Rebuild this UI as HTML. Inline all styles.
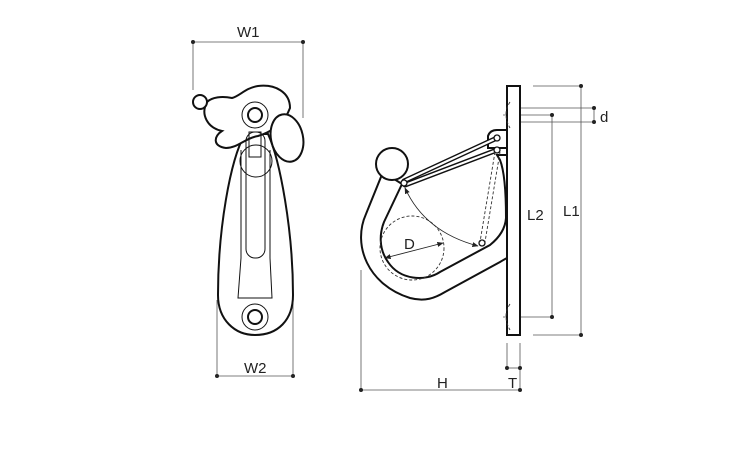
<!DOCTYPE html>
<html><head><style>body{margin:0;background:#fff}svg{display:block}text{font-family:"Liberation Sans",sans-serif;font-size:15px;fill:#222}</style></head>
<body>
<svg width="750" height="450" viewBox="0 0 750 450" xmlns="http://www.w3.org/2000/svg">
<defs><marker id="a" viewBox="0 0 10 10" refX="9" refY="5" markerWidth="7" markerHeight="7" orient="auto-start-reverse"><path d="M0,1L10,5L0,9z" fill="#222"/></marker></defs>
<g stroke="#555" stroke-width="0.8" fill="none">
<line x1="193" y1="42" x2="303" y2="42"/><line x1="193" y1="42" x2="193" y2="90"/><line x1="303" y1="42" x2="303" y2="118"/>
<line x1="217" y1="376" x2="293" y2="376"/><line x1="217" y1="300" x2="217" y2="376"/><line x1="293" y1="300" x2="293" y2="376"/>
<line x1="533" y1="86" x2="581" y2="86"/><line x1="533" y1="335" x2="581" y2="335"/><line x1="581" y1="86" x2="581" y2="335"/>
<line x1="503" y1="115" x2="552" y2="115"/><line x1="503" y1="317" x2="552" y2="317"/><line x1="552" y1="115" x2="552" y2="317"/>
<line x1="517" y1="108" x2="594" y2="108"/><line x1="517" y1="122" x2="594" y2="122"/><line x1="594" y1="108" x2="594" y2="122"/>
<line x1="507" y1="343" x2="507" y2="368"/><line x1="520" y1="343" x2="520" y2="390"/><line x1="507" y1="368" x2="520" y2="368"/>
<line x1="361" y1="390" x2="520" y2="390"/><line x1="361" y1="270" x2="361" y2="390"/>
</g>
<g fill="#222">
<circle cx="193" cy="42" r="2"/><circle cx="303" cy="42" r="2"/><circle cx="217" cy="376" r="2"/><circle cx="293" cy="376" r="2"/>
<circle cx="581" cy="86" r="2"/><circle cx="581" cy="335" r="2"/><circle cx="552" cy="115" r="2"/><circle cx="552" cy="317" r="2"/>
<circle cx="594" cy="108" r="2"/><circle cx="594" cy="122" r="2"/><circle cx="507" cy="368" r="2"/><circle cx="520" cy="368" r="2"/>
<circle cx="361" cy="390" r="2"/><circle cx="520" cy="390" r="2"/>
</g>
<text x="237" y="37">W1</text><text x="244" y="373">W2</text>
<text x="563" y="216">L1</text><text x="527" y="220">L2</text><text x="600" y="122">d</text>
<text x="437" y="388">H</text><text x="508" y="388">T</text><text x="404" y="249">D</text>
<!-- left view -->
<g stroke="#111" stroke-width="2" fill="#fff">
<path d="M245,134 C230,160 218,230 218,295 C218,320 235,335 255,335 C278,335 293,320 293,295 C293,230 280,160 268,134 Z"/>
<path d="M207,102 C200,115 208,128 222,131 C214,136 212,146 226,148 C238,148 245,138 258,136 C272,132 285,122 290,108 C290,92 275,84 258,86 C245,88 240,96 232,98 C222,96 212,97 207,102 Z"/>
<circle cx="200" cy="102" r="7"/>
<ellipse cx="287" cy="138" rx="16" ry="24" transform="rotate(-12 287 138)"/>
</g>
<g stroke="#111" stroke-width="1" fill="none">
<circle cx="255" cy="115" r="13"/><circle cx="255" cy="317" r="13"/>
<path d="M241,150 L241,258 L238,298 L272,298 L270,258 L270,150"/>
<rect x="246" y="132" width="19" height="126" rx="9"/>
<rect x="249" y="132" width="12" height="25"/>
<circle cx="256" cy="161" r="16"/>
</g>
<g stroke="#111" stroke-width="2" fill="none"><circle cx="255" cy="115" r="7"/><circle cx="255" cy="317" r="7"/></g>
<!-- right view -->
<g stroke="#111" stroke-width="2" fill="#fff">
<path d="M488,148 L488,136 Q490,130 497,130 L507,130 L507,148 Z"/>
<path d="M383,172 L366,214 C352,245 368,285 410,298 C425,302 435,298 445,292 L500,262 Q505,259 507,258 L507,155 L497,155 L500,160 Q506,175 506,218 Q505,233 490,245 L440,272 C425,282 400,280 388,262 C378,248 380,232 384,222 L402,184 Z"/>
<circle cx="392" cy="164" r="16"/>
<rect x="507" y="86" width="13" height="249"/>
</g>
<g stroke="#111" stroke-width="5" stroke-linecap="round" fill="none">
<line x1="404" y1="181" x2="497" y2="138"/><line x1="405" y1="185" x2="497" y2="150"/>
</g>
<g stroke="#fff" stroke-width="2.2" stroke-linecap="round" fill="none">
<line x1="404" y1="181" x2="497" y2="138"/><line x1="405" y1="185" x2="497" y2="150"/>
</g>
<g stroke="#111" stroke-width="1.3" fill="#fff"><circle cx="497" cy="138" r="3"/><circle cx="497" cy="150" r="3"/><circle cx="404" cy="183" r="3"/><circle cx="482" cy="243" r="3"/></g>
<g stroke="#333" stroke-width="0.9" fill="none" stroke-dasharray="3,2">
<line x1="495" y1="152" x2="480" y2="242"/><line x1="500" y1="152" x2="485" y2="242"/>
<circle cx="412" cy="248" r="32"/>
<path d="M510,102 Q502,114 510,128"/><path d="M510,304 Q502,316 510,330"/>
</g>
<g stroke="#222" stroke-width="0.9" fill="none">
<path d="M405,188 Q425,232 478,246" marker-start="url(#a)" marker-end="url(#a)"/>
<line x1="385" y1="258" x2="443" y2="243" marker-start="url(#a)" marker-end="url(#a)"/>
</g>
</svg>
</body></html>
